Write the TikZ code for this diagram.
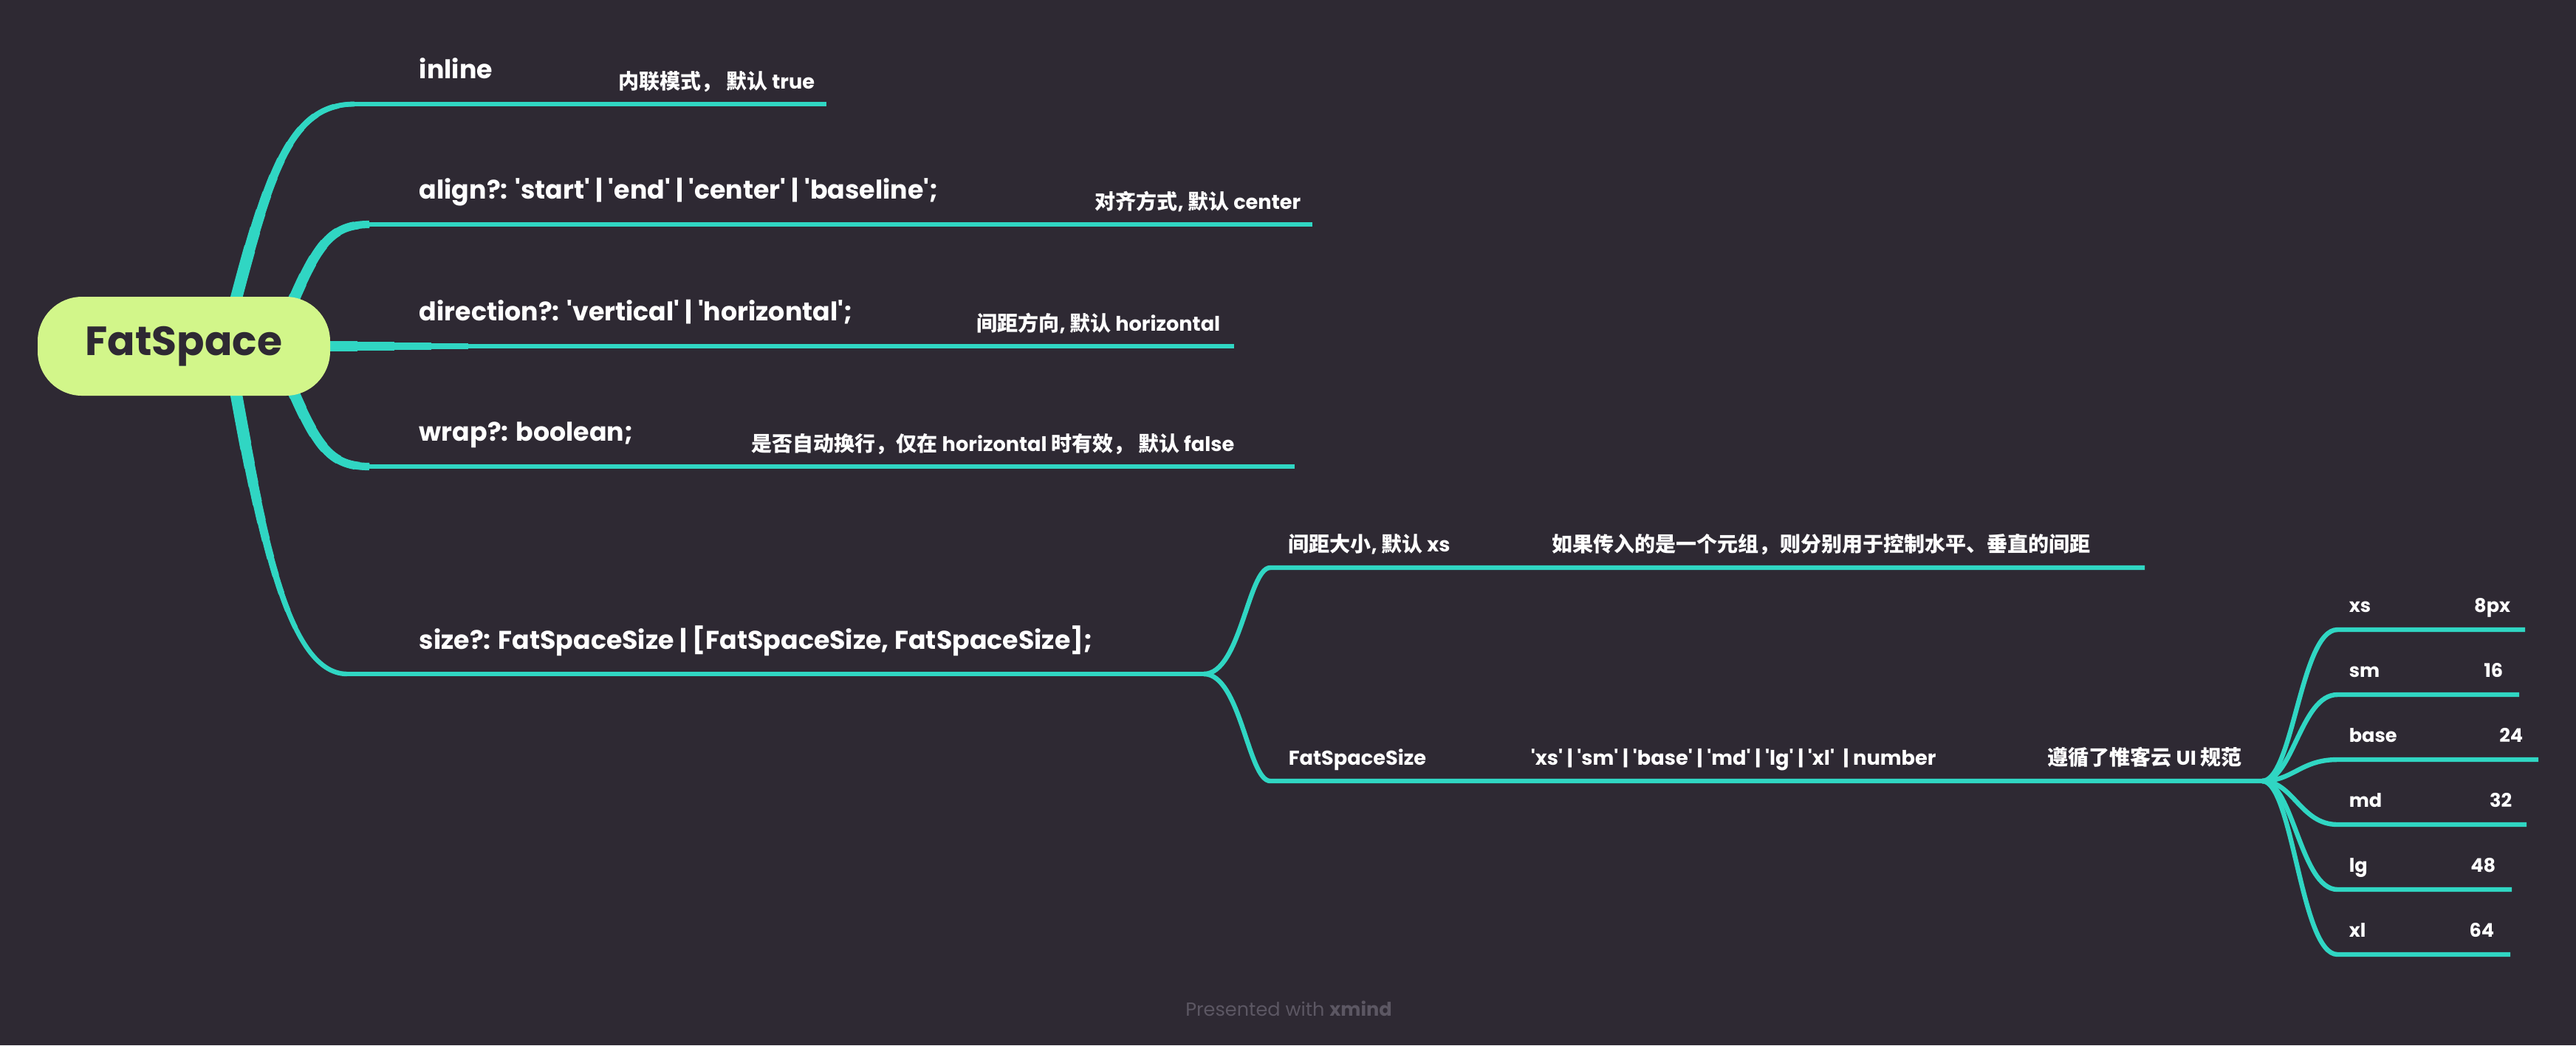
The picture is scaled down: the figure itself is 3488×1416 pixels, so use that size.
\documentclass[tikz,border=0pt]{standalone}
\usepackage{fontspec}
\setmainfont{Poppins}[Ligatures=TeXOff]
\newfontfamily\cjkf{Noto Sans CJK SC}[Scale=1.03]
\newcommand\zh[1]{{\cjkf #1}}
\usetikzlibrary{calc}
\definecolor{bgc}{HTML}{2E2933}
\definecolor{tealc}{HTML}{30D6C3}
\definecolor{rootc}{HTML}{D2F68A}
\definecolor{footc}{HTML}{5C5763}
\pgfdeclarelayer{back}
\pgfsetlayers{back,main}
\tikzset{
  br/.style={draw=tealc, line width=1.6pt},
  mainlbl/.style={anchor=base west, inner sep=0pt, text=white, font=\fontsize{8.7pt}{10pt}\selectfont\bfseries},
  notelbl/.style={anchor=base west, inner sep=0pt, text=white, font=\fontsize{6.8pt}{8pt}\selectfont\bfseries},
  leaflbl/.style={anchor=base west, inner sep=0pt, text=white, font=\fontsize{6.4pt}{8pt}\selectfont\bfseries},
  valuelbl/.style={anchor=base east, inner sep=0pt, text=white, font=\fontsize{6.4pt}{8pt}\selectfont\bfseries},
  rootbox/.style={fill=rootc, rounded corners=15pt, minimum width=99pt, minimum height=33.5pt, inner sep=0pt, text=bgc, font=\fontsize{13.8pt}{16pt}\selectfont\bfseries},
  footlbl/.style={anchor=base, inner sep=0pt, text=footc, font=\fontsize{6.4pt}{8pt}\selectfont}
}
\newcommand\rootpaths[1]{%
  \draw[br,#1] ($(root.center)+(51,11)$) .. controls (360,250) and (385,141) .. (sInline);
  \draw[br,#1] ($(root.center)+(126,-9)$) .. controls (425,340) and (440,304) .. (sAlign);
  \draw[br,#1] (root.center) -- (eDir);
  \draw[br,#1] ($(root.center)+(126,9)$) .. controls (425,598) and (440,632) .. (sWrap);
  \draw[br,#1] ($(root.center)+(61,11)$) .. controls (350,700) and (385,913) .. (sSize);
}
\begin{document}
\begin{tikzpicture}[x=0.25pt,y=-0.25pt]
\useasboundingbox (0,0) rectangle (3488,1416);
% root
\node[rootbox] (root) at (249,469) {FatSpace};
% main topics
\node[mainlbl] (tInline) at (567,106) {inline};
\node[mainlbl] (tAlign) at (567,269) {align?: 'start' | 'end' | 'center' | 'baseline';};
\node[mainlbl] (tDir) at (567,434) {direction?: 'vertical' | 'horizontal';};
\node[mainlbl] (tWrap) at (567,597) {wrap?: boolean;};
\node[mainlbl] (tSize) at (567,879) {size?: FatSpaceSize | [FatSpaceSize, FatSpaceSize];};
% notes
\node[notelbl] (nInline) at (837,120) {\zh{内联模式，} \zh{默认} true};
\node[notelbl] (nAlign) at (1482,283) {\zh{对齐方式}, \zh{默认} center};
\node[notelbl] (nDir) at (1322,448) {\zh{间距方向}, \zh{默认} horizontal};
\node[notelbl] (nWrap) at (1017,611) {\zh{是否自动换行，仅在} horizontal \zh{时有效，} \zh{默认} false};
% size children
\node[notelbl] (tGap) at (1744,747) {\zh{间距大小}, \zh{默认} xs};
\node[notelbl] (nGap) at (2101,747) {\zh{如果传入的是一个元组，则分别用于控制水平、垂直的间距}};
\node[notelbl] (tFSS) at (1744,1036) {FatSpaceSize};
\node[notelbl] (nFSS) at (2072,1036) {'xs' | 'sm' | 'base' | 'md' | 'lg' | 'xl'\ \ | number};
\node[notelbl] (mFSS) at (2772,1036) {\zh{遵循了惟客云} UI \zh{规范}};
% leaves
\node[leaflbl] (lXs) at (3180,829) {xs};
\node[valuelbl] (vXs) at (3400,829) {8px};
\node[leaflbl] (lSm) at (3180,917) {sm};
\node[valuelbl] (vSm) at (3390,917) {16};
\node[leaflbl] (lBase) at (3180,1005) {base};
\node[valuelbl] (vBase) at (3417,1005) {24};
\node[leaflbl] (lMd) at (3180,1093) {md};
\node[valuelbl] (vMd) at (3402,1093) {32};
\node[leaflbl] (lLg) at (3180,1181) {lg};
\node[valuelbl] (vLg) at (3380,1181) {48};
\node[leaflbl] (lXl) at (3180,1269) {xl};
\node[valuelbl] (vXl) at (3378,1269) {64};
% footer
\node[footlbl] (foot) at (1745,1376) {Presented with \textbf{xmind}};
% branch coordinates
\coordinate (sInline) at (480,141);  \coordinate (eInline) at (1119,141);
\coordinate (sAlign) at (500,304);   \coordinate (eAlign) at (1777,304);
\coordinate (eDir) at (1671,469);
\coordinate (sWrap) at (500,632);    \coordinate (eWrap) at (1753,632);
\coordinate (sSize) at (470,913);    \coordinate (jSize) at (1630,913);
\coordinate (sGap) at (1720,769);    \coordinate (eGap) at (2904,769);
\coordinate (sFSS) at (1720,1058);   \coordinate (jFSS) at (3063,1058);
\begin{pgfonlayer}{back}
\fill[bgc] (0,0) rectangle (3488,1416);
% main branches (tapered near the root)
\rootpaths{}
\foreach \rr/\ww in {410/1.7pt, 385/1.9pt, 360/2.1pt, 335/2.3pt, 310/2.55pt, 285/2.8pt, 260/3.05pt, 235/3.3pt, 210/3.55pt, 185/3.8pt, 160/4.05pt}{
  \begin{scope}
    \clip (root.center) circle [radius=\rr];
    \rootpaths{line width=\ww}
  \end{scope}
}
\draw[br] (sInline) -- (eInline);
\draw[br] (sAlign) -- (eAlign);
\draw[br] (sWrap) -- (eWrap);
\draw[br] (sSize) -- (jSize);
% size children
\draw[br] (jSize) .. controls (1680,913) and (1690,769) .. (sGap) -- (eGap);
\draw[br] (jSize) .. controls (1680,913) and (1690,1058) .. (sFSS) -- (jFSS);
\foreach \yy/\xe in {853/3419, 941/3411, 1029/3437, 1117/3421, 1205/3401, 1293/3399}{
  \draw[br] (jFSS) .. controls (3105,1058) and (3115,\yy) .. (3165,\yy) -- (\xe,\yy);
}
\end{pgfonlayer}
\end{tikzpicture}
\end{document}
